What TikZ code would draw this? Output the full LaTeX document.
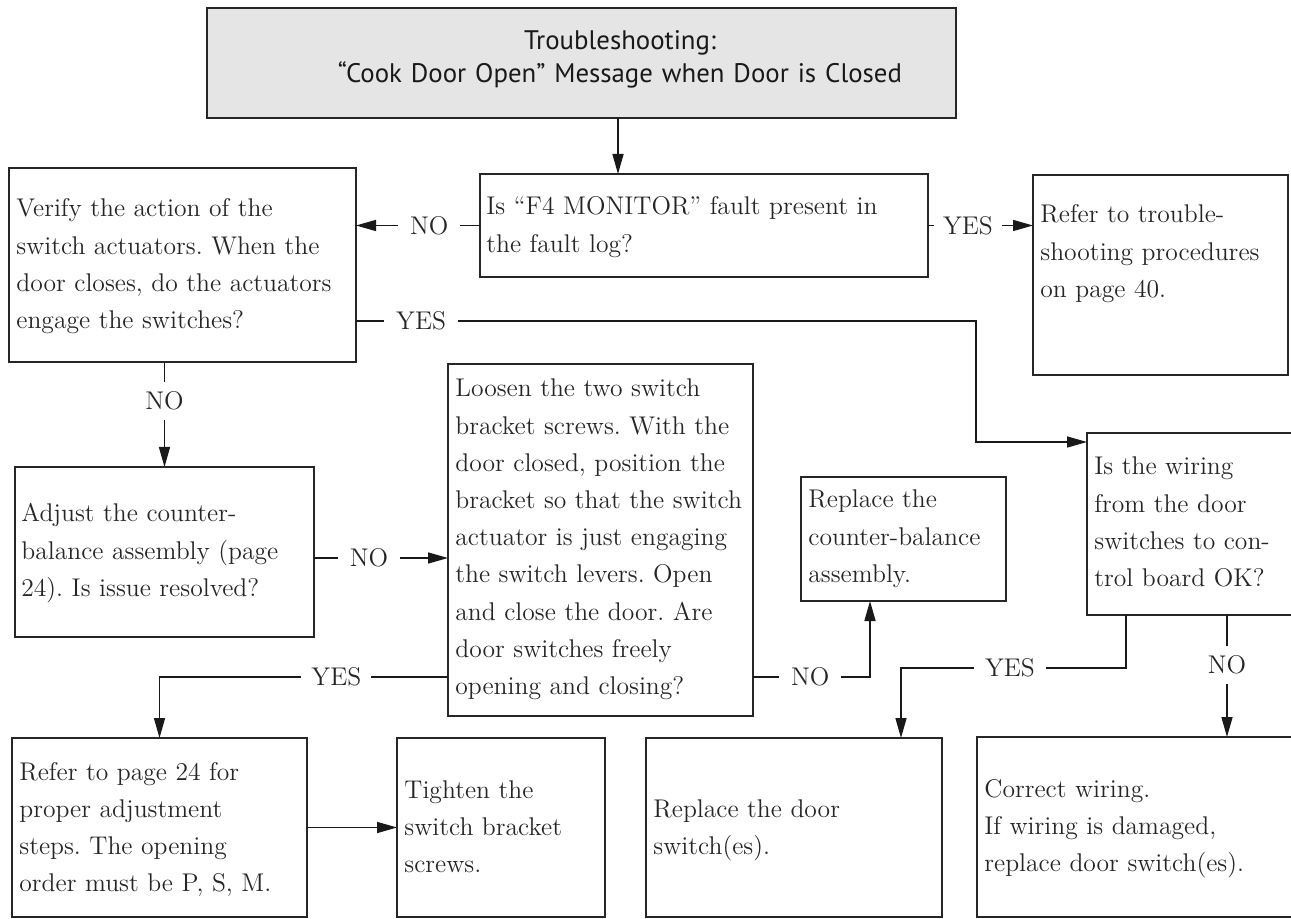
\documentclass[tikz,border=0pt]{standalone}
\usepackage{fontspec}
\newfontfamily\hdrfont{PT Sans}
\usetikzlibrary{fit,arrows.meta}
\newcommand{\bodyfnt}{\fontsize{12.8}{18.6}\selectfont\frenchspacing}
\begin{document}
\begin{tikzpicture}[x=0.5pt,y=-0.5pt,
  box/.style={draw=black!85, line width=0.8pt, inner sep=0pt, outer sep=0pt},
  hdrbox/.style={box, fill=black!10},
  txt/.style={anchor=base west, inner sep=0pt, align=left, font=\bodyfnt, text=black!85},
  hdrtxt/.style={anchor=base, inner sep=0pt, align=center, text width=320pt,
    font=\hdrfont\fontsize{13.4}{16.5}\selectfont, text=black!90},
  arr/.style={draw=black!90, line width=0.75pt, -{Triangle[length=10pt,width=5.5pt]}},
  lab/.style={fill=white, font=\bodyfnt, text=black!85, inner xsep=6pt, inner ysep=5pt}
]
\useasboundingbox (0,0) rectangle (1291,919);
\clip (0,0) rectangle (1291,919);

% boxes
\node[hdrbox, fit={(207,8) (956,118)}] (header) {};
\node[box, fit={(480,174) (928,277)}] (f4) {};
\node[box, fit={(1033,175) (1288,375)}] (refer) {};
\node[box, fit={(9,168) (356,362)}] (verify) {};
\node[box, fit={(15,467) (314,637)}] (adjust) {};
\node[box, fit={(448,364) (753,716)}] (loosen) {};
\node[box, fit={(801,477) (1006,601)}] (rcb) {};
\node[box, fit={(1087,433) (1305,615)}] (wiring) {};
\node[box, fit={(12,738) (307,917)}] (referp) {};
\node[box, fit={(397,738) (605,917)}] (tighten) {};
\node[box, fit={(646,738) (942,917)}] (rds) {};
\node[box, fit={(977,737) (1305,917)}] (correct) {};

% texts
\node[hdrtxt] (header-t) at (620,50) {Troubleshooting:\\“Cook Door Open” Message when Door is Closed};
\node[txt, text width=218pt] (f4-t) at (486,215) {Is “F4 MONITOR” fault present in\\the fault log?};
\node[txt, text width=124pt] (refer-t) at (1040,223) {Refer to trouble-\\shooting procedures\\on page 40.};
\node[txt, text width=170pt] (verify-t) at (16,217) {Verify the action of the\\switch actuators. When the\\door closes, do the actuators\\engage the switches?};
\node[txt, text width=147pt] (adjust-t) at (21,522) {Adjust the counter-\\balance assembly (page\\24). Is issue resolved?};
\node[txt, text width=150pt] (loosen-t) at (455,397) {Loosen the two switch\\bracket screws. With the\\door closed, position the\\bracket so that the switch\\actuator is just engaging\\the switch levers. Open\\and close the door. Are\\door switches freely\\opening and closing?};
\node[txt, text width=99pt] (rcb-t) at (808,508) {Replace the\\counter-balance\\assembly.};
\node[txt, text width=96pt] (wiring-t) at (1094,475) {Is the wiring\\from the door\\switches to con-\\trol board OK?};
\node[txt, text width=144pt] (referp-t) at (19,780) {Refer to page 24 for\\proper adjustment\\steps. The opening\\order must be P, S, M.};
\node[txt, text width=100pt] (tighten-t) at (404,798) {Tighten the\\switch bracket\\screws.};
\node[txt, text width=142pt] (rds-t) at (653,817) {Replace the door\\switch(es).};
\node[txt, text width=152pt] (correct-t) at (984,797) {Correct wiring.\\If wiring is damaged,\\replace door switch(es).};

% helper coordinates
\coordinate (c0) at (618,0);
\coordinate (c1) at (976,321);
\coordinate (c2) at (976,442);
\coordinate (c3) at (0,558);
\coordinate (c4) at (0,677);
\coordinate (c5) at (870,677);
\coordinate (c6) at (1126,668);
\coordinate (c7) at (901,668);
\coordinate (c8) at (1227,0);

% connectors
\draw[arr] (c0 |- header.south) -- (c0 |- f4.north);
\draw[arr] (f4.west) -- node[lab, pos=0.41] (l1) {NO} (f4.west -| verify.east);
\draw[arr] (f4.east) -- node[lab, pos=0.38, inner xsep=4.5pt] (l2) {YES} (f4.east -| refer.west);
\draw[arr] (verify.east |- c1) -- node[lab, pos=0.105] (l3) {YES} (c1) -- (c2) -- (c2 -| wiring.west);
\draw[arr] (verify.south -| adjust.north) -- node[lab, pos=0.37] (l4) {NO} (adjust.north);
\draw[arr] (adjust.east |- c3) -- node[lab, pos=0.41] (l5) {NO} (loosen.west |- c3);
\draw[arr] (loosen.west |- c4) -- node[lab, pos=0.387, inner xsep=5pt] (l6) {YES} (referp.north |- c4) -- (referp.north);
\draw[arr] (loosen.east |- c5) -- node[lab, pos=0.49] (l7) {NO} (c5) -- (c5 |- rcb.south);
\draw[arr] (c6 |- wiring.south) -- (c6) -- node[lab, pos=0.516, inner xsep=5.5pt] (l8) {YES} (c7) -- (c7 |- rds.north);
\draw[arr] (c8 |- wiring.south) -- node[lab, pos=0.41] (l9) {NO} (c8 |- correct.north);
\draw[arr] (referp.east) -- (tighten.west);
\end{tikzpicture}
\end{document}
